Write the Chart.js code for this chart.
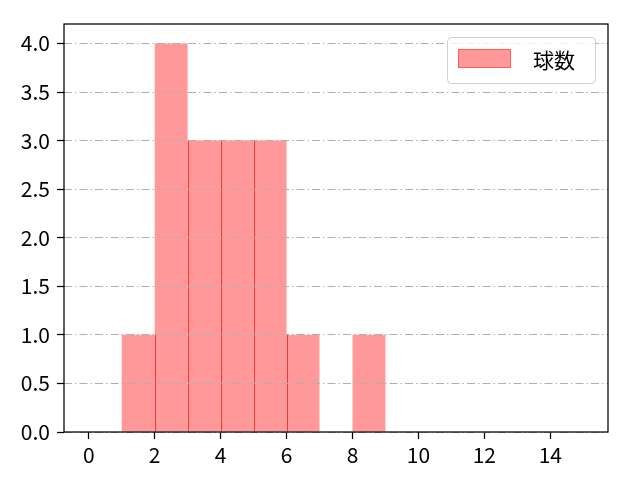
<!DOCTYPE html>
<html>
<head>
<meta charset="utf-8">
<script src="https://cdn.jsdelivr.net/npm/chart.js@4.4.0/dist/chart.umd.min.js"></script>
<style>
  body { margin: 0; background: #fff; }
  canvas { display: block; }
</style>
</head>
<body>
<canvas id="hist" width="640" height="480"></canvas>
<script>
// histogram bins (left edges, width 1) and counts
const binStarts = [1, 2, 3, 4, 5, 6, 7, 8]
const counts = [1, 4, 3, 3, 3, 1, 0, 1]
const xTicks = [0, 2, 4, 6, 8, 10, 12, 14]
const yTicks = [0, 0.5, 1, 1.5, 2, 2.5, 3, 3.5, 4]
const seriesLabel = '球数'

const FONT = "'Noto Sans CJK JP', 'DejaVu Sans', sans-serif"
const FILL = 'rgba(255, 0, 0, 0.4)'

// darker edge where two bars touch (up to the shorter one), like hist edges
const seamPlugin = {
  id: 'seams',
  afterDatasetsDraw(chart) {
    const {ctx} = chart
    const bars = chart.getDatasetMeta(0).data
    ctx.save()
    ctx.strokeStyle = 'rgba(255, 20, 20, 0.8)'
    ctx.lineWidth = 1
    for (let i = 1; i < bars.length; i++) {
      if (!counts[i - 1] || !counts[i]) continue
      const a = bars[i - 1], b = bars[i]
      const x = Math.round(a.x + a.width / 2) + 0.5
      const top = Math.max(a.y, b.y)
      ctx.beginPath()
      ctx.moveTo(x, b.base)
      ctx.lineTo(x, top)
      ctx.stroke()
    }
    ctx.restore()
  }
}

// matplotlib-ish frame + legend box, drawn on top
const framePlugin = {
  id: 'frame',
  afterDraw(chart) {
    const {ctx, chartArea: a} = chart
    ctx.save()
    ctx.strokeStyle = '#000'
    ctx.lineWidth = 1.25
    ctx.strokeRect(a.left, a.top, a.right - a.left, a.bottom - a.top)

    // legend
    const w = 148, h = 46
    const lx = a.right - 13 - w, ly = a.top + 13
    ctx.fillStyle = 'rgba(255,255,255,0.8)'
    ctx.strokeStyle = '#d0d0d0'
    ctx.lineWidth = 1
    ctx.beginPath()
    ctx.roundRect(lx + 0.5, ly + 0.5, w, h, 4)
    ctx.fill()
    ctx.stroke()
    ctx.fillStyle = FILL
    ctx.fillRect(lx + 11, ly + 12, 53, 19)
    ctx.strokeStyle = FILL
    ctx.strokeRect(lx + 11.5, ly + 12.5, 52, 18)
    ctx.fillStyle = '#000'
    ctx.font = '21px ' + FONT
    ctx.textBaseline = 'middle'
    ctx.fillText(chart.data.datasets[0].label, lx + 86, ly + 23)
    ctx.restore()
  }
}

const ctx = document.getElementById('hist')
new Chart(ctx, {
  type: 'bar',
  data: {
    datasets: [{
      label: seriesLabel,
      data: binStarts.map((s, i) => ({x: s + 0.5, y: counts[i]})),
      backgroundColor: FILL,
      borderWidth: 0,
      inflateAmount: 0,
      barPercentage: 1,
      categoryPercentage: 1
    }]
  },
  options: {
    responsive: false,
    animation: false,
    devicePixelRatio: 1,
    layout: {padding: {top: 24, right: 32, left: 0, bottom: 0}},
    plugins: {legend: {display: false}, tooltip: {enabled: false}},
    scales: {
      x: {
        type: 'linear',
        offset: false,
        min: -0.75,
        max: 15.75,
        afterBuildTicks: s => { s.ticks = xTicks.map(v => ({value: v})) },
        afterFit: s => { s.height = 48 },
        grid: {offset: false, drawOnChartArea: false, color: '#000', tickLength: 7, tickWidth: 1.25},
        border: {display: false},
        ticks: {color: '#000', font: {family: FONT, size: 21}, padding: 3, maxRotation: 0,
          callback: v => String(v)}
      },
      y: {
        min: 0,
        max: 4.2,
        afterBuildTicks: s => { s.ticks = yTicks.map(v => ({value: v})) },
        afterFit: s => { s.width = 64 },
        grid: {color: '#b0b0b0', lineWidth: 1, z: 1, tickColor: '#000', tickLength: 7,
          tickWidth: 1.25, tickBorderDash: []},
        border: {display: false, dash: [8, 3, 1.5, 3]},
        ticks: {color: '#000', font: {family: FONT, size: 21}, padding: 7,
          callback: v => v.toFixed(1)}
      }
    }
  },
  plugins: [seamPlugin, framePlugin]
})
</script>
</body>
</html>
